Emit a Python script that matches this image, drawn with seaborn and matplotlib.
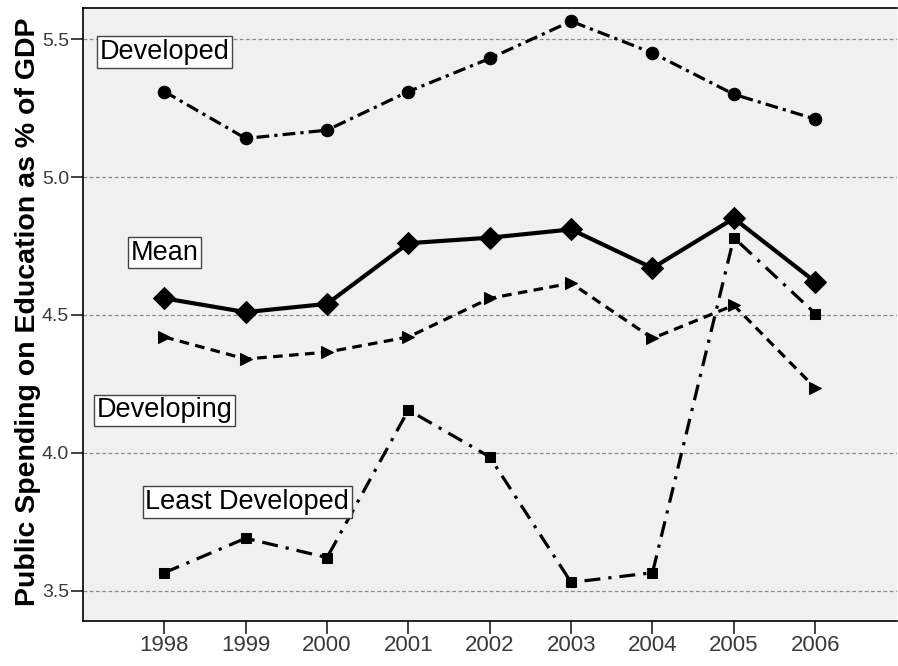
import numpy as np
import pandas as pd
import matplotlib
matplotlib.use('Agg')
import matplotlib.pyplot as plt
import seaborn as sns

# ─────────────────────────────────────────────
# DADOS
# ─────────────────────────────────────────────
years = [1998, 1999, 2000, 2001, 2002, 2003, 2004, 2005, 2006]
developed = [5.31, 5.14, 5.17, 5.31, 5.43, 5.565, 5.45, 5.30, 5.21]
mean_all = [4.56, 4.51, 4.54, 4.76, 4.78, 4.81, 4.67, 4.85, 4.62]
developing = [4.42, 4.34, 4.365, 4.42, 4.56, 4.615, 4.415, 4.535, 4.235]
least_developed = [3.565, 3.69, 3.62, 4.155, 3.985, 3.53, 3.565, 4.78, 4.505]
y_ticks = [3.5, 4.0, 4.5, 5.0, 5.5]

sns.set_theme(style='white')
plt.rcParams['font.family'] = ['Liberation Sans', 'DejaVu Sans']
plt.rcParams['text.color'] = 'black'

fig = plt.figure(figsize=(8.98, 6.66), dpi=100)
ax = fig.add_axes([0.0924, 0.0676, 0.906, 0.920])
ax.set_facecolor('#f0f0f0')

df = pd.DataFrame({'year': years, 'Developed': developed, 'Mean': mean_all,
                   'Developing': developing, 'Least Developed': least_developed})

series = [
    ('Developed', 'o', 9, (4, 1.6, 1, 1.6), 2.3),
    ('Developing', '>', 9, (3, 2), 2.3),
    ('Least Developed', 's', 6.5, (5, 2.5, 1, 2.5), 2.3),
    ('Mean', 'D', 11, None, 3.0),
]
for nome, mk, ms, dash, lw in series:
    sns.lineplot(data=df, x='year', y=nome, ax=ax, color='black',
                 marker=mk, markersize=ms, markeredgecolor='black',
                 linewidth=lw, zorder=3)
    if dash is not None:
        ax.lines[-1].set_dashes(dash)

for y in y_ticks:
    ax.axhline(y, color='#8c8c8c', linestyle=(0, (3, 2)), linewidth=0.9, zorder=1)

ax.set_xlim(1997, 2007)
ax.set_ylim(3.39, 5.612)
ax.set_xticks(years)
ax.set_xticklabels([str(y) for y in years], fontsize=16, color='#3a3a3a')
ax.set_yticks(y_ticks)
ax.set_yticklabels([f'{y:.1f}' for y in y_ticks], fontsize=14, color='#3a3a3a')
ax.tick_params(axis='both', direction='out', length=9, width=1.2, color='#222222',
               bottom=True, left=True, pad=1)
ax.set_xlabel('')
ax.set_ylabel('Public Spending on Education as % of GDP', fontsize=20.5,
              fontweight='bold', color='black')
ax.yaxis.set_label_coords(-0.0516, 0.504)
for s in ax.spines.values():
    s.set_color('black')
    s.set_linewidth(1.2)
ax.spines['right'].set_visible(False)

caixa = dict(boxstyle='square,pad=0.1', facecolor='white', edgecolor='#444444', linewidth=1)
ax.text(1998.0, 5.453, 'Developed', fontsize=19.5, ha='center', va='center', bbox=caixa, zorder=5)
ax.text(1998.0, 4.726, 'Mean', fontsize=19.5, ha='center', va='center', bbox=caixa, zorder=5)
ax.text(1998.0, 4.154, 'Developing', fontsize=19.5, ha='center', va='center', bbox=caixa, zorder=5)
ax.text(1999.02, 3.821, 'Least Developed', fontsize=19.5, ha='center', va='center', bbox=caixa, zorder=5)

fig.savefig('out.png', dpi=100)
